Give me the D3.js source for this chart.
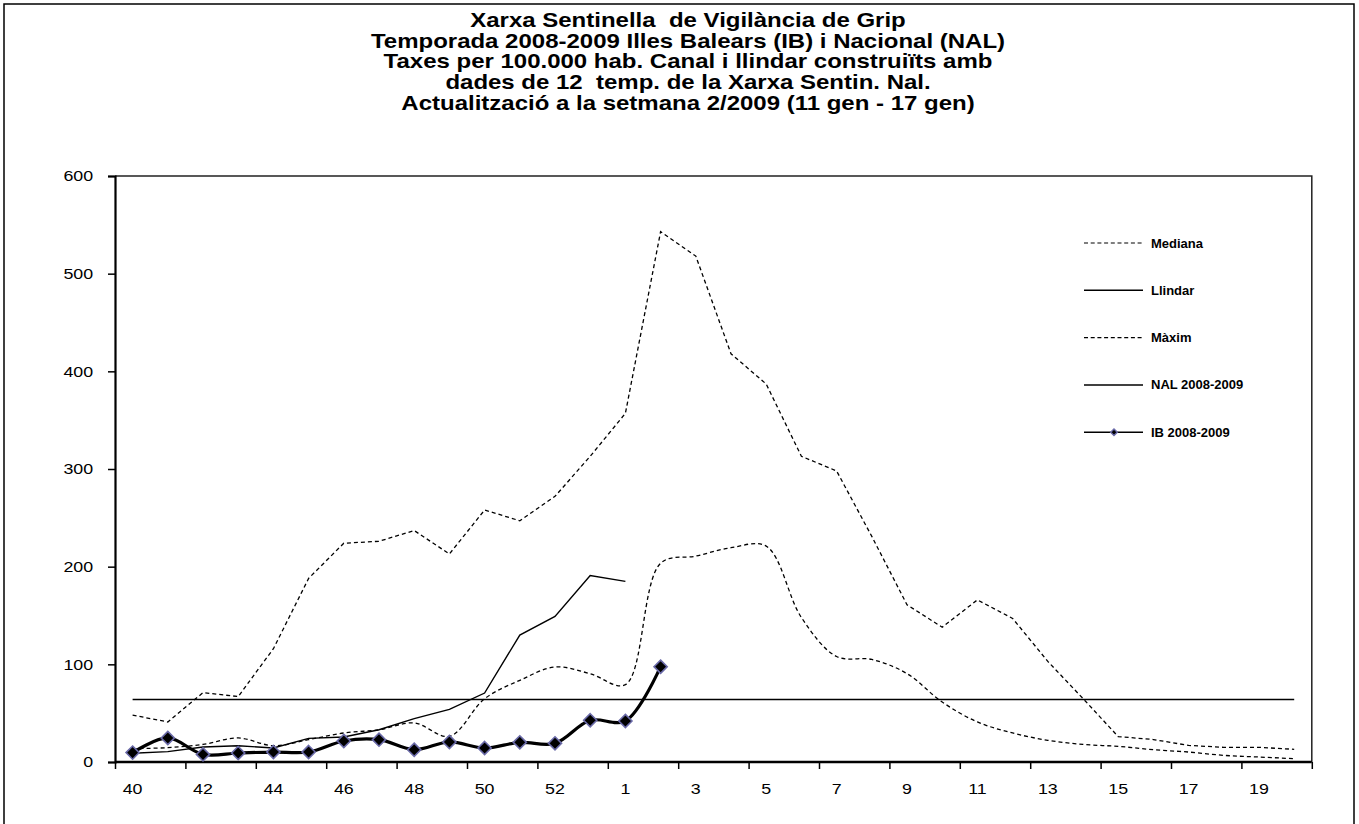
<!DOCTYPE html>
<html><head><meta charset="utf-8">
<script src="https://cdn.jsdelivr.net/npm/d3@7"></script>
<style>
html,body{margin:0;padding:0;background:#fff;}
svg{display:block;font-family:"Liberation Sans",Arial,sans-serif;}
</style></head>
<body>
<svg id="chart" width="1359" height="824"></svg>
<script>
const weeks = ["40","41","42","43","44","45","46","47","48","49","50","51","52","53","1","2","3","4","5","6","7","8","9","10","11","12","13","14","15","16","17","18","19","20"];
const labelWeeks = ["40","42","44","46","48","50","52","1","3","5","7","9","11","13","15","17","19"];
const yTicks = [0,100,200,300,400,500,600];
const mediana = [13.7,14.7,18,24.6,16.7,22.9,29.7,33,40,26.3,64.8,83.6,97.3,90.4,79.2,203.5,210.8,219.4,221,148,108,105,90.5,61.4,41,29.7,22.2,18,16,12.6,10.2,6.8,5.1,3.4];
const maxim = [48,41,71,67,116,188,224,226,237,213,258,247,272,313,357,543,518,418,387,313,298,231,161,138,166,147,103,65,26,23,17,15,15,13];
const llindar = 64;
const nal = [9,10.6,15.4,16.7,14.3,24.2,25.6,33,44.4,53.9,70.6,130,149,191,185];
const ib = [9.6,24.6,7.8,9.2,10.2,10.2,21.5,22.9,12.6,20.5,14.3,20.1,19.1,42.7,42,97.6];
const titleLines = [
  "Xarxa Sentinella  de Vigilància de Grip",
  "Temporada 2008-2009 Illes Balears (IB) i Nacional (NAL)",
  "Taxes per 100.000 hab. Canal i llindar construiïts amb",
  "dades de 12  temp. de la Xarxa Sentin. Nal.",
  "Actualització a la setmana 2/2009 (11 gen - 17 gen)"
];
const legendItems = [
  {name:"Mediana", type:"dash"},
  {name:"Llindar", type:"solid"},
  {name:"Màxim", type:"dash"},
  {name:"NAL 2008-2009", type:"solid"},
  {name:"IB 2008-2009", type:"marker"}
];

const svg = d3.select("#chart");
const L = 115, R = 1311.8, T = 176, B = 762;
const SX = 1.15; // horizontal stretch of the original's lettering

// outer frame
svg.append("rect").attr("x",4).attr("y",4).attr("width",1350).attr("height",830)
  .attr("fill","none").attr("stroke","#000").attr("stroke-width",1.5);

// title
const tg = svg.append("g").attr("transform",`translate(688,0) scale(1.2,1)`);
const tt = tg.append("text").attr("text-anchor","middle").attr("font-weight","bold")
  .attr("font-size",20).attr("fill","#000").attr("xml:space","preserve");
titleLines.forEach((t,i)=>{
  tt.append("tspan").attr("x",0).attr("y",27 + i*20.7).text(t);
});

const x = d3.scaleBand().domain(weeks).range([L,R]).padding(0);
const xEdge = d3.scaleLinear().domain([0,weeks.length]).range([L,R]);
const y = d3.scaleLinear().domain([0,600]).range([B,T]);
const cx = w => x(w) + x.bandwidth()/2;

// plot border (top/right)
svg.append("path").attr("d",`M${L},${T}H${R}V${B}`).attr("fill","none")
  .attr("stroke","#222").attr("stroke-width",1.5);

// y axis
const ya = svg.append("g").attr("transform",`translate(${L},0)`)
  .call(d3.axisLeft(y).tickValues(yTicks).tickSize(7).tickPadding(12));
ya.select(".domain").attr("stroke","#000").attr("stroke-width",2.2);
ya.selectAll(".tick line").attr("stroke","#000").attr("stroke-width",1.5);
ya.selectAll(".tick text").attr("font-size",15.5).attr("fill","#000")
  .attr("font-family","Liberation Sans, Arial, sans-serif")
  .attr("transform",`scale(${SX},1)`);

// x axis labels
const xa = svg.append("g").attr("transform",`translate(0,${B})`)
  .call(d3.axisBottom(x).tickValues(labelWeeks).tickSize(0).tickPadding(21));
xa.select(".domain").remove();
xa.selectAll(".tick text").attr("font-size",15.5).attr("fill","#000")
  .attr("font-family","Liberation Sans, Arial, sans-serif")
  .attr("transform",`scale(${SX},1)`);
// x axis line + tick marks at category edges
const xt = svg.append("g").attr("transform",`translate(0,${B})`)
  .call(d3.axisBottom(xEdge).tickValues(d3.range(0,weeks.length+1,2)).tickSize(7).tickFormat(""));
xt.select(".domain").attr("stroke","#000").attr("stroke-width",2.6).attr("d",`M${L},0H${R}`);
xt.selectAll(".tick line").attr("stroke","#000").attr("stroke-width",1.5);

// series
const smooth = d3.curveCatmullRom.alpha(0.5);
const lineOf = (arr, curve) => d3.line()
  .defined(d=>d!=null)
  .x((d,i)=>cx(weeks[i])).y(d=>y(d)).curve(curve)(arr);

// llindar
svg.append("path").attr("d", lineOf(weeks.map(()=>llindar), d3.curveLinear))
  .attr("fill","none").attr("stroke","#000").attr("stroke-width",1.6);
// maxim
svg.append("path").attr("d", lineOf(maxim, d3.curveLinear))
  .attr("fill","none").attr("stroke","#000").attr("stroke-width",1.3).attr("stroke-dasharray","4,3");
// mediana
svg.append("path").attr("d", lineOf(mediana, smooth))
  .attr("fill","none").attr("stroke","#000").attr("stroke-width",1.3).attr("stroke-dasharray","4,3");
// NAL
svg.append("path").attr("d", lineOf(nal, d3.curveLinear))
  .attr("fill","none").attr("stroke","#000").attr("stroke-width",1.4);
// IB
svg.append("path").attr("d", lineOf(ib, smooth))
  .attr("fill","none").attr("stroke","#000").attr("stroke-width",3.2);
const diamond = d3.symbol().type(d3.symbolDiamond2).size(110);
svg.append("g").selectAll("path").data(ib).join("path")
  .attr("d", diamond)
  .attr("transform",(d,i)=>`translate(${cx(weeks[i])},${y(d)})`)
  .attr("fill","#000").attr("stroke","#6a6aa8").attr("stroke-width",1.6);

// legend
const lg = svg.append("g");
legendItems.forEach((it,i)=>{
  const yy = 243 + i*47.3;
  const g = lg.append("g").attr("transform",`translate(0,${yy})`);
  g.append("line").attr("x1",1084).attr("x2",1143).attr("y1",0).attr("y2",0)
    .attr("stroke","#000").attr("stroke-width",it.type==="dash"?1.2:1.5)
    .attr("stroke-dasharray",it.type==="dash"?"4,2.7":null);
  if(it.type==="marker"){
    g.append("path").attr("d", d3.symbol().type(d3.symbolDiamond2).size(28)())
      .attr("transform","translate(1114,0)").attr("fill","#000")
      .attr("stroke","#6a6aa8").attr("stroke-width",1.4);
  }
  g.append("text").attr("x",1151).attr("y",0).attr("dy","0.35em")
    .attr("font-size",13).attr("font-weight","bold").attr("fill","#000").text(it.name);
});
</script>
</body></html>
